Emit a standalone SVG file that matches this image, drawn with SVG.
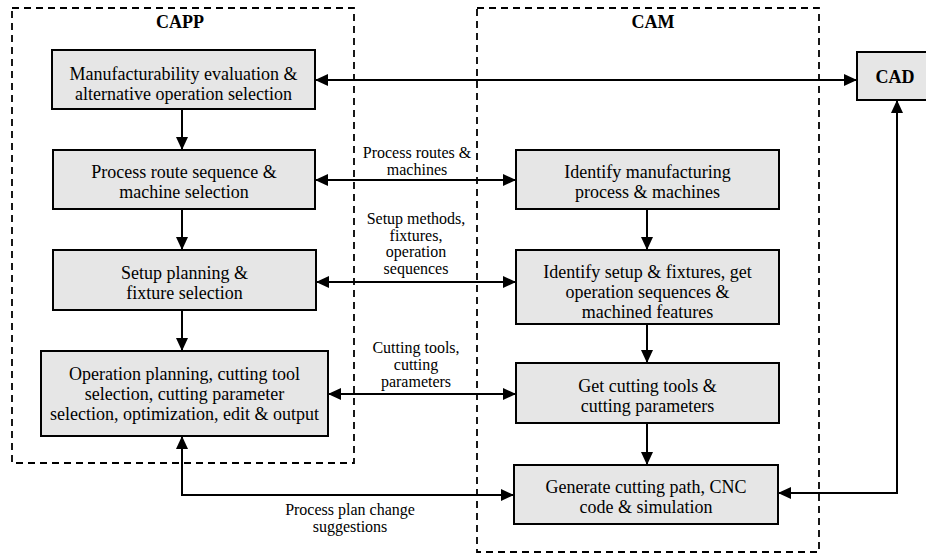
<svg xmlns="http://www.w3.org/2000/svg" width="926" height="553" viewBox="0 0 926 553">
  <style>
    .frame { fill: none; stroke: #000; stroke-width: 1.8; stroke-dasharray: 7 5; }
    .box { fill: #e6e6e6; stroke: #000; stroke-width: 2; }
    .t { font-family: "Liberation Serif", "Times New Roman", serif; font-size: 18px; text-anchor: middle; fill: #000; }
    .title { font-family: "Liberation Serif", "Times New Roman", serif; font-size: 18px; font-weight: bold; text-anchor: middle; fill: #000; }
    .lbl { font-family: "Liberation Serif", "Times New Roman", serif; font-size: 16px; text-anchor: middle; fill: #000; }
    .link { fill: none; stroke: #000; stroke-width: 2; }
  </style>
  <defs>
    <marker id="arrow" viewBox="0 0 13 12" refX="13" refY="6" markerWidth="13" markerHeight="12" markerUnits="userSpaceOnUse" orient="auto-start-reverse">
      <path d="M0,0 L13,6 L0,12 z" fill="#000"/>
    </marker>
  </defs>
  <rect width="926" height="553" fill="#fff"/>

  <!-- system frames -->
  <g id="capp">
    <rect class="frame" x="12" y="8" width="342" height="455"/>
    <text class="title" x="180" y="28">CAPP</text>
  </g>
  <g id="cam">
    <rect class="frame" x="477" y="8" width="342" height="544"/>
    <text class="title" x="653" y="28">CAM</text>
  </g>

  <!-- CAPP steps -->
  <g id="manufacturability">
    <rect class="box" x="52" y="50" width="263" height="59"/>
    <text class="t" x="183.5" y="80">Manufacturability evaluation &amp;</text>
    <text class="t" x="183.5" y="100">alternative operation selection</text>
  </g>
  <g id="process-route">
    <rect class="box" x="53" y="150" width="262" height="59"/>
    <text class="t" x="184" y="178">Process route sequence &amp;</text>
    <text class="t" x="184" y="198">machine selection</text>
  </g>
  <g id="setup-planning">
    <rect class="box" x="53" y="250" width="263" height="60"/>
    <text class="t" x="184.5" y="279">Setup planning &amp;</text>
    <text class="t" x="184.5" y="299">fixture selection</text>
  </g>
  <g id="operation-planning">
    <rect class="box" x="41" y="351" width="287" height="85"/>
    <text class="t" x="184.5" y="380">Operation planning, cutting tool</text>
    <text class="t" x="184.5" y="400">selection, cutting parameter</text>
    <text class="t" x="184.5" y="420">selection, optimization, edit &amp; output</text>
  </g>

  <!-- CAM steps -->
  <g id="identify-process">
    <rect class="box" x="516" y="150" width="263" height="59"/>
    <text class="t" x="647.5" y="178">Identify manufacturing</text>
    <text class="t" x="647.5" y="198">process &amp; machines</text>
  </g>
  <g id="identify-setup">
    <rect class="box" x="516" y="250" width="263" height="74"/>
    <text class="t" x="647.5" y="278">Identify setup &amp; fixtures, get</text>
    <text class="t" x="647.5" y="298">operation sequences &amp;</text>
    <text class="t" x="647.5" y="318">machined features</text>
  </g>
  <g id="cutting-tools">
    <rect class="box" x="516" y="363" width="263" height="60"/>
    <text class="t" x="647.5" y="392">Get cutting tools &amp;</text>
    <text class="t" x="647.5" y="412">cutting parameters</text>
  </g>
  <g id="cutting-path">
    <rect class="box" x="514" y="465" width="264" height="59"/>
    <text class="t" x="646" y="493">Generate cutting path, CNC</text>
    <text class="t" x="646" y="513">code &amp; simulation</text>
  </g>

  <!-- CAD -->
  <g id="cad">
    <rect class="box" x="857" y="52" width="80" height="48"/>
    <text class="title" x="895" y="83">CAD</text>
  </g>

  <!-- connectors -->
  <g id="connectors">
    <line class="link" x1="315" y1="80" x2="857" y2="80" marker-start="url(#arrow)" marker-end="url(#arrow)"/>
    <line class="link" x1="182" y1="109" x2="182" y2="150" marker-end="url(#arrow)"/>
    <line class="link" x1="315" y1="180" x2="516" y2="180" marker-start="url(#arrow)" marker-end="url(#arrow)"/>
    <line class="link" x1="182" y1="209" x2="182" y2="250" marker-end="url(#arrow)"/>
    <line class="link" x1="316" y1="282" x2="516" y2="282" marker-start="url(#arrow)" marker-end="url(#arrow)"/>
    <line class="link" x1="182" y1="310" x2="182" y2="351" marker-end="url(#arrow)"/>
    <line class="link" x1="328" y1="394" x2="516" y2="394" marker-start="url(#arrow)" marker-end="url(#arrow)"/>
    <line class="link" x1="647" y1="209" x2="647" y2="250" marker-end="url(#arrow)"/>
    <line class="link" x1="647" y1="324" x2="647" y2="363" marker-end="url(#arrow)"/>
    <line class="link" x1="647" y1="423" x2="647" y2="465" marker-end="url(#arrow)"/>
    <polyline class="link" points="182,436 182,495 514,495" marker-start="url(#arrow)" marker-end="url(#arrow)"/>
    <polyline class="link" points="897,100 897,493 778,493" marker-start="url(#arrow)" marker-end="url(#arrow)"/>
  </g>

  <!-- connector labels -->
  <g id="labels">
    <text class="lbl" x="417" y="158">Process routes &amp;</text>
    <text class="lbl" x="417" y="175">machines</text>
    <text class="lbl" x="416" y="224">Setup methods,</text>
    <text class="lbl" x="416" y="241">fixtures,</text>
    <text class="lbl" x="416" y="257">operation</text>
    <text class="lbl" x="416" y="274">sequences</text>
    <text class="lbl" x="416" y="353">Cutting tools,</text>
    <text class="lbl" x="416" y="370">cutting</text>
    <text class="lbl" x="416" y="387">parameters</text>
    <text class="lbl" x="350" y="515">Process plan change</text>
    <text class="lbl" x="350" y="532">suggestions</text>
  </g>
</svg>
